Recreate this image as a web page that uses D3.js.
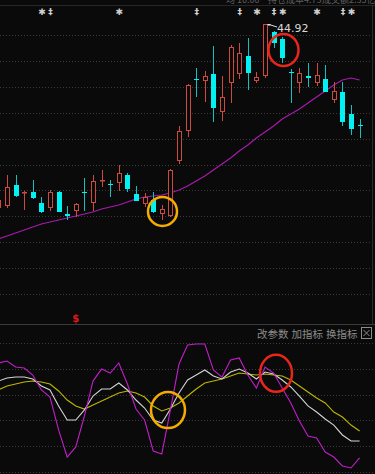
<!DOCTYPE html>
<html>
<head>
<meta charset="utf-8">
<script src="https://cdn.jsdelivr.net/npm/d3@7"></script>
<style>
  html, body { margin: 0; padding: 0; background: #0a0a0a; overflow: hidden; }
</style>
</head>
<body>
<div id="chart"></div>
<script>
// candle index, -1 is the half-cut bar on the left edge
const bars = d3.range(-1, 42);

const open  = [35.72, 35.82, 36.87, 36.50, 36.52, 35.97, 35.72, 36.52, 35.42, 35.57, 36.54, 35.97, 37.08, 36.92, 36.97, 37.37, 36.42, 35.92, 36.12, 35.42, 35.32, 38.07, 39.57, 42.17, 42.07, 42.42, 40.52, 41.97, 42.42, 43.32, 42.07, 42.32, 44.52, 44.17, 42.52, 41.97, 42.32, 41.97, 42.17, 41.12, 41.52, 40.42, 39.85];
const high  = [36.32, 37.37, 37.37, 36.57, 37.12, 36.27, 36.62, 36.55, 35.82, 35.97, 37.22, 37.37, 37.62, 37.12, 37.87, 37.47, 36.82, 36.47, 36.52, 35.87, 37.67, 39.82, 41.92, 42.72, 42.57, 43.82, 42.32, 43.87, 43.97, 44.22, 42.52, 44.92, 44.57, 44.27, 42.67, 42.72, 42.97, 42.97, 42.87, 42.02, 42.02, 40.87, 40.17];
const low   = [35.52, 35.72, 36.27, 35.62, 36.17, 35.47, 35.57, 35.50, 35.12, 35.27, 35.57, 35.57, 36.77, 36.27, 36.57, 36.52, 36.05, 35.77, 35.47, 35.12, 35.27, 37.92, 39.27, 41.27, 41.02, 40.02, 40.07, 40.97, 42.17, 41.62, 41.97, 42.22, 43.72, 42.97, 40.97, 41.47, 41.77, 41.82, 41.50, 40.97, 39.82, 39.37, 39.22];
const close = [36.12, 36.77, 36.32, 36.54, 36.22, 35.52, 36.52, 35.52, 35.32, 35.92, 36.50, 37.07, 37.12, 36.88, 37.47, 36.67, 36.07, 36.27, 35.52, 35.67, 37.62, 39.57, 41.87, 42.12, 42.32, 40.72, 41.27, 43.77, 43.47, 42.47, 42.27, 44.90, 43.97, 43.22, 42.47, 42.47, 42.22, 42.37, 41.52, 41.57, 40.02, 39.67, 39.80];
const ma    = [34.17, 34.32, 34.47, 34.62, 34.77, 34.92, 35.02, 35.12, 35.22, 35.32, 35.42, 35.52, 35.67, 35.77, 35.87, 36.02, 36.17, 36.27, 36.32, 36.37, 36.47, 36.62, 36.82, 37.07, 37.32, 37.62, 37.92, 38.22, 38.57, 38.87, 39.22, 39.52, 39.82, 40.17, 40.42, 40.67, 40.97, 41.27, 41.57, 41.87, 42.12, 42.22, 42.12];

// KDJ style indicator
const kVals = [70.5, 72.9, 73.6, 73.6, 72.1, 66.7, 63.6, 51.2, 40.3, 40.3, 48.1, 58.9, 64.3, 64.3, 69.0, 63.6, 55.8, 49.6, 40.3, 38.0, 48.8, 61.2, 71.3, 75.2, 79.1, 74.4, 72.1, 77.5, 79.8, 76.7, 72.1, 77.5, 76.0, 71.3, 65.9, 58.9, 51.2, 46.5, 41.1, 36.4, 28.7, 24.0, 24.0];
const dVals = [63.6, 66.7, 68.2, 69.8, 70.5, 69.8, 68.2, 62.8, 55.8, 51.2, 48.8, 51.9, 55.0, 58.1, 61.2, 62.8, 61.2, 58.1, 51.2, 47.3, 49.6, 53.5, 58.9, 64.3, 69.0, 70.5, 72.1, 74.4, 76.7, 76.0, 75.2, 76.0, 75.2, 74.4, 71.3, 66.7, 62.0, 57.4, 53.5, 46.5, 42.6, 36.4, 31.8];
const jVals = [84.5, 86.0, 81.4, 80.6, 75.2, 63.6, 58.1, 32.6, 11.6, 19.4, 43.4, 70.5, 79.8, 76.7, 84.5, 68.2, 48.8, 40.3, 16.3, 14.0, 48.1, 83.7, 98.4, 99.2, 99.2, 79.1, 73.6, 86.8, 88.4, 75.2, 65.1, 81.4, 76.7, 65.1, 53.5, 39.5, 27.9, 26.4, 15.5, 11.6, 4.7, 3.1, 10.9];

// signal icons above the candles
const markBars  = [4, 5, 13, 22, 27, 29, 31, 32, 36, 39, 40];
const markSyms  = ['✱', '‡', '✱', '‡', '‡', '✱', '‡', '✱', '✱', '‡', '✱'];
const mainGrid  = [44.37, 43.07, 41.77, 40.47, 39.17, 37.87, 36.62, 35.32, 34.02, 32.72, 31.42];
const subGrid   = [100, 80, 60, 40, 20, 0];
const buttons   = ['改参数', '加指标', '换指标'];
const topInfo   = ['均 10.00', '持仓成本4.73', '成交额2.35亿'];

const W = 375, H = 474;
const red = '#cc4a40', cyan = '#00f2f2', cyanWick = '#19bfc0';

const svg = d3.select('#chart').append('svg')
  .attr('width', W).attr('height', H)
  .style('background', '#0a0a0a')
  .style('display', 'block');

const x = d3.scaleLinear().domain([-1, 41]).range([-1.6, 359.6]);
const y = d3.scaleLinear().domain([29.92, 45.32]).range([324, 16]);
const ys = d3.scaleLinear().domain([0, 100]).range([472, 343]);

// top info strip, mostly scrolled out of view like in the app
svg.append('line').attr('x1', 0).attr('x2', W).attr('y1', 5.5).attr('y2', 5.5)
  .attr('stroke', '#262626');
svg.append('g').selectAll('text').data(topInfo).join('text')
  .attr('x', (d, n) => [226, 268, 322][n]).attr('y', 2.5)
  .attr('fill', '#5e5e5e').attr('font-size', 9)
  .attr('font-family', 'Noto Sans CJK SC')
  .text(d => d);

// grid
svg.append('g').selectAll('line').data(mainGrid).join('line')
  .attr('x1', 0).attr('x2', W)
  .attr('y1', d => Math.round(y(d)) + 0.5).attr('y2', d => Math.round(y(d)) + 0.5)
  .attr('stroke', '#3a3a3a').attr('stroke-dasharray', '1,2');
svg.append('g').selectAll('line').data(subGrid).join('line')
  .attr('x1', 0).attr('x2', W)
  .attr('y1', d => Math.round(ys(d)) + 0.5).attr('y2', d => Math.round(ys(d)) + 0.5)
  .attr('stroke', '#3a3a3a').attr('stroke-dasharray', '1,2');

// panel separator + right edge
svg.append('line').attr('x1', 0).attr('x2', W).attr('y1', 324.5).attr('y2', 324.5)
  .attr('stroke', '#3c3c3c');
svg.append('line').attr('x1', 372.5).attr('x2', 372.5).attr('y1', 5).attr('y2', 324)
  .attr('stroke', '#2c2c2c');

// moving average
svg.append('path').datum(bars)
  .attr('fill', 'none').attr('stroke', '#a81aae').attr('stroke-width', 1.2)
  .attr('d', d3.line().x(i => x(i)).y((i, n) => y(ma[n])));

// candles
const candles = svg.append('g').selectAll('g').data(bars).join('g');
candles.each(function (i, n) {
  const g = d3.select(this);
  const cx = Math.round(x(i));
  const up = close[n] >= open[n];
  const top = Math.round(y(Math.max(open[n], close[n])));
  const bot = Math.max(Math.round(y(Math.min(open[n], close[n]))), top + 1);
  const hi = Math.round(y(high[n])), lo = Math.round(y(low[n]));
  if (up) {
    g.append('line').attr('x1', cx + 0.5).attr('x2', cx + 0.5).attr('y1', hi).attr('y2', top)
      .attr('stroke', red);
    g.append('line').attr('x1', cx + 0.5).attr('x2', cx + 0.5).attr('y1', bot).attr('y2', lo)
      .attr('stroke', red);
    g.append('rect').attr('x', cx - 1.5).attr('y', top + 0.5)
      .attr('width', 4).attr('height', Math.max(bot - top - 1, 0.5))
      .attr('fill', '#0a0a0a').attr('stroke', red);
  } else {
    g.append('line').attr('x1', cx + 0.5).attr('x2', cx + 0.5).attr('y1', hi).attr('y2', lo)
      .attr('stroke', cyanWick);
    g.append('rect').attr('x', cx - 2).attr('y', top)
      .attr('width', 5).attr('height', Math.max(bot - top, 1))
      .attr('fill', cyan);
  }
});

// markers on top
svg.append('g').selectAll('text').data(markBars).join('text')
  .attr('x', i => x(i) + 0.5).attr('y', 15)
  .attr('text-anchor', 'middle')
  .attr('fill', '#d0d0d0').attr('font-size', 9).attr('font-weight', 'bold')
  .attr('font-family', 'DejaVu Sans')
  .text((d, n) => markSyms[n]);

// max price label
const maxN = d3.maxIndex(high);
const mx = Math.round(x(bars[maxN])) + 2, my = y(high[maxN]);
svg.append('path')
  .attr('d', `M${mx},${my} l4,0 l-2,2 z`)
  .attr('fill', '#eee');
svg.append('line').attr('x1', mx + 2).attr('y1', my + 0.5).attr('x2', mx + 10).attr('y2', my + 3)
  .attr('stroke', '#ddd');
svg.append('text').attr('x', mx + 10).attr('y', my + 7.5)
  .attr('fill', '#d8d8d8').attr('font-size', 11).attr('font-family', 'DejaVu Sans')
  .text(d3.format('.2f')(high[maxN]));

// red $ marker
svg.append('text').attr('x', x(8)).attr('y', 322)
  .attr('text-anchor', 'middle').attr('fill', '#e01818')
  .attr('font-size', 10).attr('font-weight', 'bold').attr('font-family', 'DejaVu Sans')
  .text('$');

// indicator header buttons
svg.append('g').selectAll('text').data(buttons).join('text')
  .attr('x', (d, n) => 257 + n * 34.5).attr('y', 337.5)
  .attr('fill', '#8c8c8c').attr('font-size', 10.5)
  .attr('font-family', 'Noto Sans CJK SC')
  .text(d => d);
svg.append('rect').attr('x', 361.5).attr('y', 327.5).attr('width', 10).attr('height', 11)
  .attr('fill', 'none').attr('stroke', '#8c8c8c');
svg.append('path').attr('d', 'M363.5,330 L369.5,336 M369.5,330 L363.5,336')
  .attr('stroke', '#8c8c8c').attr('stroke-width', 1);

// indicator lines
const sub = svg.append('g');
[[dVals, '#bdb600'], [kVals, '#d4d4d4'], [jVals, '#c21ec8']].forEach(s => {
  sub.append('path').datum(bars)
    .attr('fill', 'none').attr('stroke', s[1]).attr('stroke-width', 1.1)
    .attr('d', d3.line().x(i => x(i)).y((i, n) => ys(s[0][n])));
});

// hand drawn highlight circles
const rings = [
  { cx: 162.5, cy: y(35.55), rx: 14.5, ry: 14.5, c: '#f5ab00' },
  { cx: 283.5, cy: y(43.62), rx: 15, ry: 16, c: '#e8261a' },
  { cx: 168, cy: ys(48), rx: 17, ry: 18, c: '#f5ab00' },
  { cx: 276, cy: ys(76.5), rx: 16, ry: 18.5, c: '#e8261a' }
];
svg.append('g').selectAll('ellipse').data(rings).join('ellipse')
  .attr('cx', d => d.cx).attr('cy', d => d.cy)
  .attr('rx', d => d.rx).attr('ry', d => d.ry)
  .attr('fill', 'none').attr('stroke', d => d.c).attr('stroke-width', 2.5);
</script>
</body>
</html>
